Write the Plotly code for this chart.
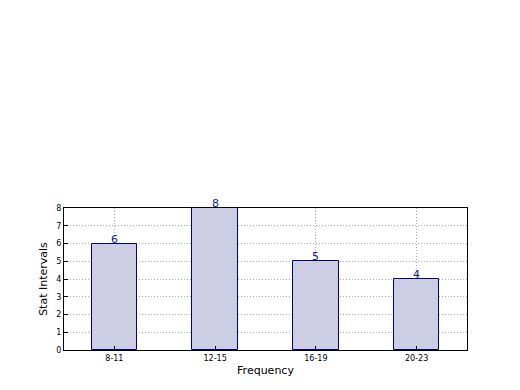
import plotly.graph_objects as go

categories = ["8-11", "12-15", "16-19", "20-23"]
values = [6, 8, 5, 4]
y_ticks = [0, 1, 2, 3, 4, 5, 6, 7, 8]

fig = go.Figure()
fig.add_trace(go.Bar(
    x=list(range(len(categories))), y=values, width=0.45,
    marker=dict(color="#cdcde4", line=dict(color="#000080", width=1)),
    hoverinfo="skip", showlegend=False,
))
for i, v in enumerate(values):
    fig.add_annotation(x=i, y=v, text=str(v), showarrow=False, yanchor="bottom",
                       yshift=-4, font=dict(family="DejaVu Sans", size=11, color="#1a1a8c"))

fig.update_layout(
    width=520, height=390,
    margin=dict(l=64, r=53, t=208, b=40),
    paper_bgcolor="white", plot_bgcolor="white",
    font=dict(family="DejaVu Sans", color="black"),
    bargap=0,
)
fig.update_xaxes(
    range=[-0.5, 3.5], tickvals=list(range(len(categories))), ticktext=categories,
    tickfont=dict(size=8), showline=True, linecolor="black", linewidth=1, mirror=True,
    showgrid=True, gridcolor="#a8a8a8", griddash="1px,2px", gridwidth=1,
    ticks="inside", ticklen=4, tickcolor="black", layer="above traces",
    title=dict(text="Frequency", font=dict(size=11), standoff=4),
    zeroline=False, fixedrange=True,
)
fig.update_yaxes(
    range=[0, 8], tickvals=y_ticks, tickfont=dict(size=8),
    showline=True, linecolor="black", linewidth=1, mirror=True,
    showgrid=True, gridcolor="#a8a8a8", griddash="1px,2px", gridwidth=1,
    ticks="inside", ticklen=4, tickcolor="black", layer="above traces",
    title=dict(text="Stat Intervals", font=dict(size=11), standoff=6),
    zeroline=False, fixedrange=True,
)
fig.write_html("out.html")
